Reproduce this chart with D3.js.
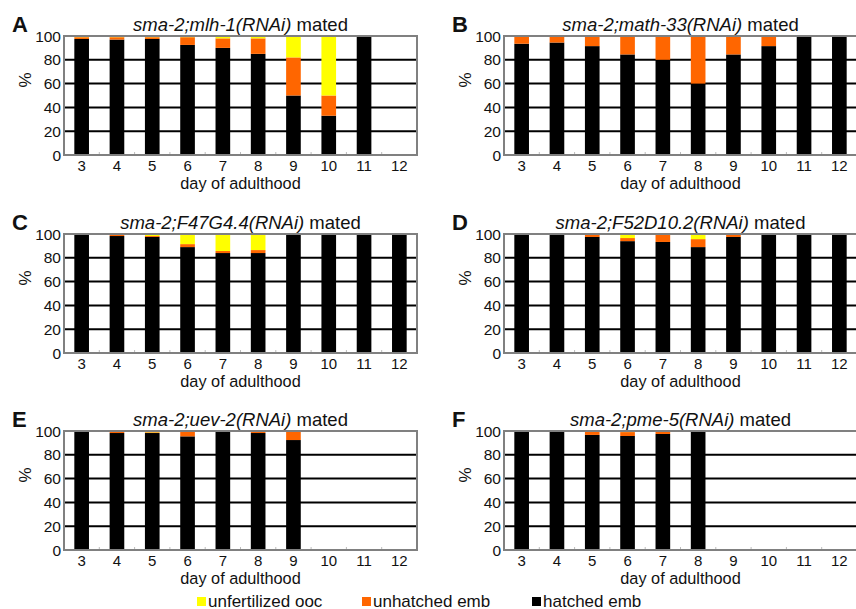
<!DOCTYPE html>
<html>
<head>
<meta charset="utf-8">
<script src="https://cdn.jsdelivr.net/npm/d3@7"></script>
<style>
  body { margin: 0; background: #fff; }
  svg text { font-family: "Liberation Sans", Arial, sans-serif; fill: #111; }
</style>
</head>
<body>
<div id="chart"></div>
<script>
// day of adulthood (x categories)
var days = ["3", "4", "5", "6", "7", "8", "9", "10", "11", "12"];
var yTicks = [0, 20, 40, 60, 80, 100];

var letters = ["A", "B", "C", "D", "E", "F"];
var genes = ["sma-2;mlh-1(RNAi)", "sma-2;math-33(RNAi)", "sma-2;F47G4.4(RNAi)",
             "sma-2;F52D10.2(RNAi)", "sma-2;uev-2(RNAi)", "sma-2;pme-5(RNAi)"];

// % hatched emb / unhatched emb / unfertilized ooc, null = no data that day
var hatchedA = [97.5, 97, 97.5, 92.5, 90, 85, 50, 33, 100, null];
var unhatchedA = [1.5, 2, 1.5, 6.5, 8, 13, 32, 17, 0, null];
var unfertA = [1, 1, 1, 1, 2, 2, 18, 50, 0, null];

var hatchedB = [93.5, 94.5, 91.5, 84.5, 80, 60, 84.5, 91.5, 100, 100];
var unhatchedB = [6.5, 5.5, 8, 15, 20, 40, 15.5, 8.5, 0, 0];
var unfertB = [0, 0, 0.5, 0.5, 0, 0, 0, 0, 0, 0];

var hatchedC = [100, 98.3, 97.5, 89, 84, 84, 100, 100, 100, 100];
var unhatchedC = [0, 1.7, 0.8, 2.5, 1.7, 2.5, 0, 0, 0, 0];
var unfertC = [0, 0, 1.7, 8.5, 14.3, 13.5, 0, 0, 0, 0];

var hatchedD = [100, 99.2, 97.5, 94, 93.3, 89, 97.5, 100, 100, 100];
var unhatchedD = [0, 0.8, 2.5, 2.6, 6.7, 6.7, 2.5, 0, 0, 0];
var unfertD = [0, 0, 0, 3.4, 0, 4.3, 0, 0, 0, 0];

var hatchedE = [99.2, 98.3, 98.3, 95.5, 100, 98.3, 92.4, null, null, null];
var unhatchedE = [0.8, 1.7, 0.6, 4.5, 0, 1.7, 7.6, null, null, null];
var unfertE = [0, 0, 1.1, 0, 0, 0, 0, null, null, null];

var hatchedF = [100, 99.2, 96.7, 95.8, 97.5, 100, null, null, null, null];
var unhatchedF = [0, 0.8, 3.3, 3.3, 2.5, 0, null, null, null, null];
var unfertF = [0, 0, 0, 0.9, 0, 0, null, null, null, null];

var seriesKeys = ["hatched", "unhatched", "unfert"];
var legendLabels = ["unfertilized ooc", "unhatched emb", "hatched emb"];
var colors = { hatched: "#000000", unhatched: "#ff6600", unfert: "#ffff00" };

var hatched = [hatchedA, hatchedB, hatchedC, hatchedD, hatchedE, hatchedF];
var unhatched = [unhatchedA, unhatchedB, unhatchedC, unhatchedD, unhatchedE, unhatchedF];
var unfert = [unfertA, unfertB, unfertC, unfertD, unfertE, unfertF];

var width = 856, height = 609;
var pw = 353, ph = 119;
var lefts = [64, 504];
var tops = [36, 234, 431];

var svg = d3.select("#chart").append("svg")
    .attr("width", width)
    .attr("height", height);

var x = d3.scaleBand()
    .domain(days)
    .range([0, pw])
    .paddingInner(0.585)
    .paddingOuter(0.2925);

var y = d3.scaleLinear()
    .domain([0, 100])
    .range([ph, 0]);

var stack = d3.stack().keys(seriesKeys);

for (var p = 0; p < 6; p++) {
    var col = p % 2, row = Math.floor(p / 2);
    var g = svg.append("g")
        .attr("transform", "translate(" + lefts[col] + "," + tops[row] + ")");

    var rows = [];
    for (var i = 0; i < days.length; i++) {
        if (hatched[p][i] === null) continue;
        rows.push({ day: days[i], hatched: hatched[p][i], unhatched: unhatched[p][i], unfert: unfert[p][i] });
    }

    // grid lines
    g.selectAll(".grid")
        .data(yTicks.filter(function(t) { return t > 0 && t < 100; }))
        .enter().append("line")
        .attr("x1", 0).attr("x2", pw)
        .attr("y1", function(d) { return y(d); })
        .attr("y2", function(d) { return y(d); })
        .attr("stroke", "#000")
        .attr("stroke-width", 2);

    // bars
    g.selectAll(".layer")
        .data(stack(rows))
        .enter().append("g")
        .attr("fill", function(d) { return colors[d.key]; })
        .selectAll("rect")
        .data(function(d) { return d; })
        .enter().append("rect")
        .attr("x", function(d) { return x(d.data.day); })
        .attr("width", x.bandwidth())
        .attr("y", function(d) { return y(d[1]); })
        .attr("height", function(d) { return y(d[0]) - y(d[1]); });

    // small boundary ticks on bottom axis
    g.selectAll(".btick")
        .data(days.slice(1))
        .enter().append("line")
        .attr("x1", function(d) { return x(d) - x.step() * x.paddingInner() / 2; })
        .attr("x2", function(d) { return x(d) - x.step() * x.paddingInner() / 2; })
        .attr("y1", ph).attr("y2", ph - 3)
        .attr("stroke", "#bbb")
        .attr("stroke-width", 1);

    // frame
    g.append("rect")
        .attr("x", 0).attr("y", 0)
        .attr("width", pw).attr("height", ph)
        .attr("fill", "none")
        .attr("stroke", "#808080")
        .attr("stroke-width", 2);

    // y tick labels
    g.selectAll(".ylab")
        .data(yTicks)
        .enter().append("text")
        .attr("x", -3)
        .attr("y", function(d) { return y(d) + 5.5; })
        .attr("text-anchor", "end")
        .style("font-size", "15.5px")
        .text(function(d) { return d; });

    // x tick labels
    g.selectAll(".xlab")
        .data(days)
        .enter().append("text")
        .attr("x", function(d) { return x(d) + x.bandwidth() / 2; })
        .attr("y", ph + 16)
        .attr("text-anchor", "middle")
        .style("font-size", "15px")
        .text(function(d) { return d; });

    g.append("text")
        .attr("x", pw / 2)
        .attr("y", ph + 33.5)
        .attr("text-anchor", "middle")
        .style("font-size", "16.3px")
        .text("day of adulthood");

    g.append("text")
        .attr("transform", "translate(-33," + 44 + ") rotate(-90)")
        .attr("text-anchor", "middle")
        .style("font-size", "17px")
        .text("%");

    var title = g.append("text")
        .attr("x", pw / 2)
        .attr("y", -5)
        .attr("text-anchor", "middle")
        .style("font-size", "18.5px");
    title.append("tspan").style("font-style", "italic").text(genes[p]);
    title.append("tspan").text(" mated");

    g.append("text")
        .attr("x", -52)
        .attr("y", -4)
        .style("font-size", "22px")
        .style("font-weight", "bold")
        .text(letters[p]);
}

// legend
var legendX = [197, 362, 532];
var legendColors = [colors.unfert, colors.unhatched, colors.hatched];
var legend = svg.append("g").attr("transform", "translate(0,597)");
legendLabels.forEach(function(lab, i) {
    legend.append("rect")
        .attr("x", legendX[i]).attr("y", 0)
        .attr("width", 9).attr("height", 9)
        .attr("fill", legendColors[i]);
    legend.append("text")
        .attr("x", legendX[i] + 11)
        .attr("y", 9.5)
        .style("font-size", "17px")
        .text(lab);
});
</script>
</body>
</html>
